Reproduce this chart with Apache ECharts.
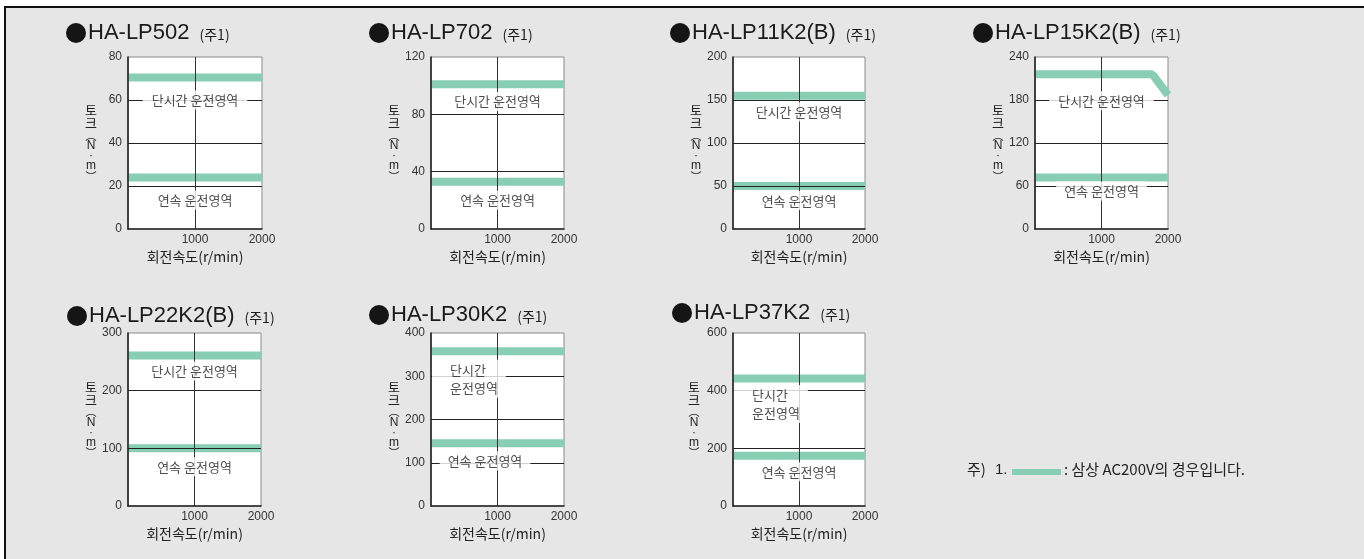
<!DOCTYPE html>
<html>
<head>
<meta charset="utf-8">
<script src="https://cdn.jsdelivr.net/npm/echarts@6/dist/echarts.min.js"></script>
<style>
html,body{margin:0;padding:0;background:#fff;width:1364px;height:559px;overflow:hidden;}
#frame{position:absolute;left:4px;top:6px;width:1358px;height:560px;background:#e6e6e6;border-top:2px solid #111;border-left:2px solid #111;border-right:1px solid #bbb;}
#chart{position:absolute;left:0;top:0;width:1364px;height:559px;}
</style>
</head>
<body>
<div id="frame"></div>
<div id="chart"></div>
<script>
// ---- data ----
const models = ['HA-LP502', 'HA-LP702', 'HA-LP11K2(B)', 'HA-LP15K2(B)', 'HA-LP22K2(B)', 'HA-LP30K2', 'HA-LP37K2'];
const yMax = [80, 120, 200, 240, 300, 400, 600];
const yInterval = [20, 40, 50, 60, 100, 100, 200];
const xMax = 2000;
const xInterval = 1000;
const bandSpeeds = [0, 2000];
const shortTimeTorque = [70.5, 101, 155, 216, 261, 358, 442];
const continuousTorque = [24, 33, 50, 72, 100, 145, 174];
// HA-LP15K2(B) short-time curve (drops at high speed)
const lp15kSpeeds = [0, 1750, 1790, 2000];
const lp15kTorque = [216, 216, 213, 187];
const shortLabelText = ['단시간 운전영역', '단시간 운전영역', '단시간 운전영역', '단시간 운전영역', '단시간 운전영역', '단시간\n운전영역', '단시간\n운전영역'];
const contLabelText = '연속 운전영역';
const shortLabelAt = [[1000, 60], [1000, 89], [1000, 136], [1000, 179], [1000, 234], [0, 294], [0, 354]];
const contLabelAt = [[1000, 13.5], [1000, 20], [1000, 33], [1000, 53], [1000, 68], [812, 104], [1000, 119]];
const xAxisName = '회전속도(r/min)';
const yAxisName = '{k|토}\n{k|크}\n{p|︵}\n{l|N}\n{l|·}\n{l|m}\n{p|︶}';
const noteText = ': 삼상 AC200V의 경우입니다.';

// ---- layout ----
const gLeft = [128, 431, 733, 1035, 128, 431, 733];
const gTop = [57, 57, 57, 57, 333, 333, 333];
const gW = [134, 133, 132, 133, 133, 133, 132];
const gH = [172, 172, 172, 172, 173, 173, 173];
const tLeft = [66, 369, 670, 973, 67, 369, 672];
const tTop = [20, 20, 20, 20, 303, 302, 300];
const yNameGap = [37, 37, 37, 37, 34, 37, 39];

const BAND = '#88ceb5';
const INK = '#222';
const FONT_L = "'Liberation Sans', Arial, sans-serif";
const FONT_K = "'Noto Sans CJK KR', sans-serif";

const chart = echarts.init(document.getElementById('chart'), null, {renderer: 'canvas'});

const grid = [], xAxis = [], yAxis = [], series = [], title = [];
models.forEach((m, i) => {
  grid.push({left: gLeft[i], top: gTop[i], width: gW[i], height: gH[i], show: true,
    backgroundColor: '#fff', borderColor: '#8a8a8a', borderWidth: 1, containLabel: false});
  xAxis.push({gridIndex: i, type: 'value', min: 0, max: xMax, interval: xInterval, z: 3,
    axisLine: {show: true, onZero: false, lineStyle: {color: INK, width: 1.6}},
    axisTick: {show: false},
    axisLabel: {color: '#333', fontSize: 12, fontFamily: FONT_L, margin: 5,
      formatter: v => v === 0 ? '' : String(v)},
    splitLine: {show: true, showMinLine: false, showMaxLine: false, lineStyle: {color: '#333', width: 1}},
    name: xAxisName, nameLocation: 'middle', nameGap: 21,
    nameTextStyle: {color: '#222', fontSize: 14, fontFamily: FONT_K}});
  yAxis.push({gridIndex: i, type: 'value', min: 0, max: yMax[i], interval: yInterval[i], z: 3,
    axisLine: {show: true, onZero: false, lineStyle: {color: INK, width: 1.6}},
    axisTick: {show: false},
    axisLabel: {color: '#333', fontSize: 12, fontFamily: FONT_L, margin: 6},
    splitLine: {show: true, showMinLine: false, showMaxLine: false, lineStyle: {color: '#222', width: 1}},
    name: yAxisName, nameLocation: 'middle', nameRotate: 0, nameGap: yNameGap[i],
    nameTextStyle: {color: '#222', align: 'center', rich: {
      k: {fontSize: 13, lineHeight: 13, fontFamily: FONT_K, color: '#222', align: 'center'},
      p: {fontSize: 11, lineHeight: 11, fontFamily: FONT_K, color: '#222', align: 'center'},
      l: {fontSize: 12, lineHeight: 10, fontFamily: FONT_L, color: '#222', align: 'center'}
    }}});
  const shortData = (i === 3)
    ? lp15kSpeeds.map((s, k) => [s, lp15kTorque[k]])
    : bandSpeeds.map(s => [s, shortTimeTorque[i]]);
  series.push({type: 'line', xAxisIndex: i, yAxisIndex: i, data: shortData, showSymbol: false, symbol: 'none',
    lineStyle: {color: BAND, width: 8, cap: 'butt', join: 'round'}, z: 1, silent: true, animation: false});
  series.push({type: 'line', xAxisIndex: i, yAxisIndex: i, data: bandSpeeds.map(s => [s, continuousTorque[i]]),
    showSymbol: false, symbol: 'none', lineStyle: {color: BAND, width: 8, cap: 'butt'}, z: 1, silent: true, animation: false});
  const leftAligned = shortLabelAt[i][0] === 0;
  const shortLabel = leftAligned
    ? {show: true, formatter: shortLabelText[i], position: 'right', distance: 1, align: 'left',
       backgroundColor: '#fff', padding: [1, 8, 1, 18], lineHeight: 18}
    : {show: true, formatter: shortLabelText[i], position: 'inside',
       backgroundColor: '#fff', padding: [2, 9], lineHeight: 15};
  series.push({type: 'scatter', xAxisIndex: i, yAxisIndex: i, symbolSize: 0, z: 10, silent: true, animation: false,
    label: {color: '#222', fontSize: 13, fontFamily: FONT_K},
    data: [
      {value: shortLabelAt[i], label: shortLabel},
      {value: contLabelAt[i], label: {show: true, formatter: contLabelText, position: 'inside',
        backgroundColor: '#fff', padding: [2, 8], lineHeight: 15}}
    ]});
  title.push({left: tLeft[i], top: tTop[i], padding: 0,
    text: '{b| }{t|' + m + '}{s|(주1)}',
    textStyle: {fontWeight: 'normal', rich: {
      b: {width: 20, height: 20, borderRadius: 10, backgroundColor: '#151515', fontSize: 10},
      t: {fontSize: 22, fontWeight: 'normal', fontFamily: FONT_L, color: '#1a1a1a', lineHeight: 26, padding: [0, 10, 0, 2]},
      s: {fontSize: 14, fontWeight: 'normal', fontFamily: FONT_K, color: '#1a1a1a', lineHeight: 26, padding: [3, 0, 0, 0]}
    }}});
});

const graphic = [
  {type: 'text', left: 967, top: 462, style: {text: '주)', fontSize: 15, fontFamily: FONT_K, fill: '#222'}},
  {type: 'text', left: 995, top: 462, style: {text: '1.', fontSize: 15, fontFamily: FONT_L, fill: '#222'}},
  {type: 'rect', shape: {x: 1012, y: 469, width: 49, height: 6}, style: {fill: BAND}},
  {type: 'text', left: 1064, top: 462, style: {text: noteText, fontSize: 15, fontFamily: FONT_K, fill: '#222'}}
];

chart.setOption({animation: false, backgroundColor: 'transparent', title, grid, xAxis, yAxis, series, graphic});
</script>
</body>
</html>
